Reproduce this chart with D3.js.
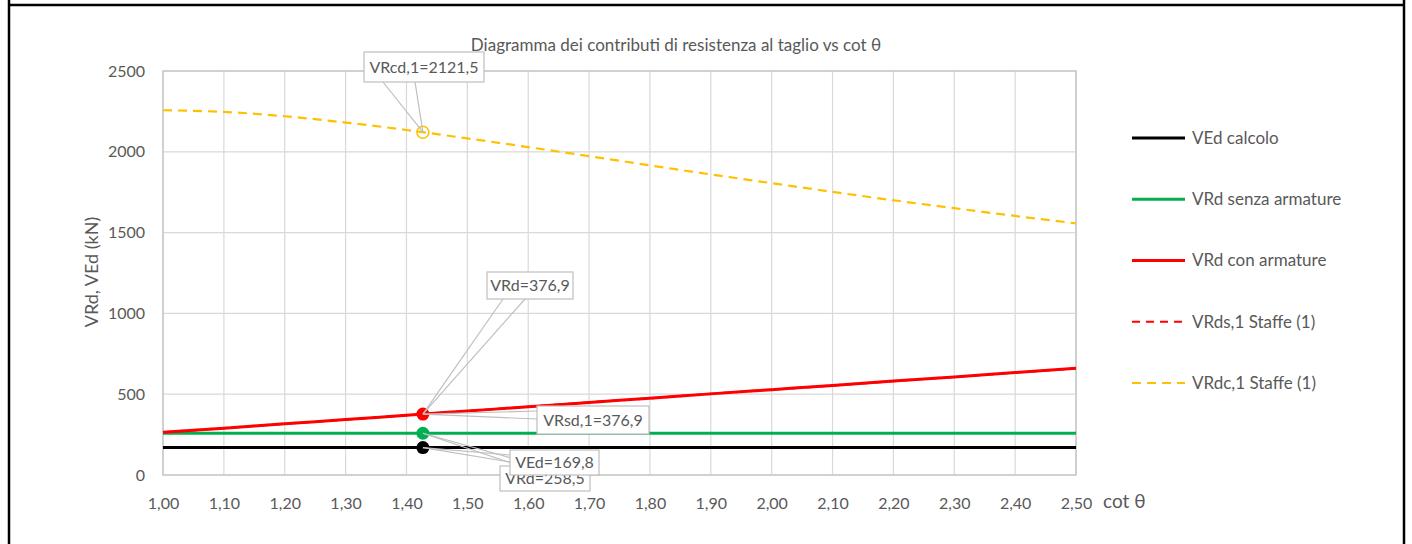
<!DOCTYPE html>
<html>
<head>
<meta charset="utf-8">
<script src="https://cdn.jsdelivr.net/npm/d3@7"></script>
<style>
  body { margin: 0; background: #fff; }
  svg { display: block; font-family: Lato, "Open Sans", sans-serif; }
</style>
</head>
<body>
<svg id="chart" width="1412" height="544"></svg>
<script>
// data
var cotTheta = [1.0, 1.1, 1.2, 1.3, 1.4, 1.5, 1.6, 1.7, 1.8, 1.9, 2.0, 2.1, 2.2, 2.3, 2.4, 2.5];
var vEd   = [169.8, 169.8, 169.8, 169.8, 169.8, 169.8, 169.8, 169.8, 169.8, 169.8, 169.8, 169.8, 169.8, 169.8, 169.8, 169.8];
var vRdNoArm = [258.5, 258.5, 258.5, 258.5, 258.5, 258.5, 258.5, 258.5, 258.5, 258.5, 258.5, 258.5, 258.5, 258.5, 258.5, 258.5];
var vRsd  = [264, 290, 317, 343, 370, 396, 422, 449, 475, 502, 528, 554, 581, 607, 634, 660];
var vRcd  = [2257, 2247, 2220, 2181, 2135, 2083, 2029, 1973, 1916, 1860, 1806, 1752, 1700, 1651, 1603, 1557];
var vRdArm = [264, 290, 317, 343, 370, 396, 422, 449, 475, 502, 528, 554, 581, 607, 634, 660];

var xTicks = [1.0, 1.1, 1.2, 1.3, 1.4, 1.5, 1.6, 1.7, 1.8, 1.9, 2.0, 2.1, 2.2, 2.3, 2.4, 2.5];
var yTicks = [0, 500, 1000, 1500, 2000, 2500];

// design point
var pointCot = 1.427;
var pointVals = { vEd: 169.8, vRdNoArm: 258.5, vRd: 376.9, vRsd: 376.9, vRcd: 2121.5 };

var svg = d3.select("#chart");
var x = d3.scaleLinear().domain([1, 2.5]).range([163, 1076]);
var y = d3.scaleLinear().domain([0, 2500]).range([475, 71]);
var textCol = "#595959";
var fmt = function(v) { return d3.format(".1f")(v).replace(".", ","); };

// outer frame
svg.append("line").attr("x1", 8).attr("x2", 1405).attr("y1", 5).attr("y2", 5).attr("stroke", "#000").attr("stroke-width", 2.5);
svg.append("line").attr("x1", 9).attr("x2", 9).attr("y1", 0).attr("y2", 544).attr("stroke", "#000").attr("stroke-width", 2.5);
svg.append("line").attr("x1", 1404).attr("x2", 1404).attr("y1", 0).attr("y2", 544).attr("stroke", "#000").attr("stroke-width", 2.5);

// gridlines
svg.append("g").selectAll("line").data(xTicks).enter().append("line")
  .attr("x1", function(d) { return x(d); }).attr("x2", function(d) { return x(d); })
  .attr("y1", y(2500)).attr("y2", y(0))
  .attr("stroke", "#d9d9d9").attr("stroke-width", 1.2);
svg.append("g").selectAll("line").data(yTicks).enter().append("line")
  .attr("x1", x(1)).attr("x2", x(2.5))
  .attr("y1", function(d) { return y(d); }).attr("y2", function(d) { return y(d); })
  .attr("stroke", "#d9d9d9").attr("stroke-width", 1.2);

// plot border
svg.append("rect").attr("x", x(1)).attr("y", y(2500)).attr("width", x(2.5) - x(1)).attr("height", y(0) - y(2500))
  .attr("fill", "none").attr("stroke", "#c8c8c8").attr("stroke-width", 1.5);

// axes (labels only)
var xAxis = svg.append("g").attr("transform", "translate(0," + y(0) + ")")
  .call(d3.axisBottom(x).tickValues(xTicks).tickSize(0).tickPadding(23).tickFormat(function(d) { return d3.format(".2f")(d).replace(".", ","); }));
var yAxis = svg.append("g").attr("transform", "translate(" + x(1) + ",0)")
  .call(d3.axisLeft(y).tickValues(yTicks).tickSize(0).tickPadding(18).tickFormat(d3.format("d")));
[xAxis, yAxis].forEach(function(a) {
  a.select(".domain").remove();
  a.selectAll("text").attr("fill", textCol).style("font-size", "16px").style("font-family", "Lato, sans-serif");
});

// titles
svg.append("text").attr("x", 676).attr("y", 51).attr("text-anchor", "middle")
  .attr("fill", textCol).style("font-size", "17px").text("Diagramma dei contributi di resistenza al taglio vs cot θ");
svg.append("text").attr("transform", "translate(98,272) rotate(-90)").attr("text-anchor", "middle")
  .attr("fill", textCol).style("font-size", "18px").text("VRd, VEd (kN)");
svg.append("text").attr("x", 1103).attr("y", 508)
  .attr("fill", textCol).style("font-size", "19px").text("cot θ");

// series
var series = [
  { name: "VEd calcolo", values: vEd, color: "#000000", dash: null, width: 3 },
  { name: "VRd senza armature", values: vRdNoArm, color: "#00b050", dash: null, width: 3 },
  { name: "VRds,1 Staffe (1)", values: vRsd, color: "#ff0000", dash: "8,6", width: 2.2 },
  { name: "VRd con armature", values: vRdArm, color: "#ff0000", dash: null, width: 3 },
  { name: "VRdc,1 Staffe (1)", values: vRcd, color: "#ffc000", dash: "9,6", width: 2.2 }
];
var line = d3.line()
  .x(function(d, i) { return x(cotTheta[i]); })
  .y(function(d) { return y(d); })
  .curve(d3.curveMonotoneX);
svg.append("g").selectAll("path").data(series).enter().append("path")
  .attr("d", function(s) { return line(s.values); })
  .attr("fill", "none")
  .attr("stroke", function(s) { return s.color; })
  .attr("stroke-width", function(s) { return s.width; })
  .attr("stroke-dasharray", function(s) { return s.dash; });

// markers at the design point
svg.append("circle").attr("cx", x(pointCot)).attr("cy", y(pointVals.vRcd)).attr("r", 6)
  .attr("fill", "none").attr("stroke", "#ffc000").attr("stroke-width", 1.5);
svg.append("circle").attr("cx", x(pointCot)).attr("cy", y(pointVals.vRd)).attr("r", 6.5).attr("fill", "#ff0000");
svg.append("circle").attr("cx", x(pointCot)).attr("cy", y(pointVals.vRdNoArm)).attr("r", 6.5).attr("fill", "#00b050");
svg.append("circle").attr("cx", x(pointCot)).attr("cy", y(pointVals.vEd)).attr("r", 6.5).attr("fill", "#000");

// callouts: box position and wedge base
var callouts = [
  { text: "VRcd,1=" + fmt(pointVals.vRcd), v: pointVals.vRcd, box: [364, 52, 120, 30], base: [[383, 82], [415, 82]] },
  { text: "VRd=" + fmt(pointVals.vRd), v: pointVals.vRd, box: [487, 272, 86, 27], base: [[503, 299], [525, 299]] },
  { text: "VRsd,1=" + fmt(pointVals.vRsd), v: pointVals.vRsd, box: [537, 406, 112, 28], base: [[537, 411], [537, 419]] },
  { text: "VRd=" + fmt(pointVals.vRdNoArm), v: pointVals.vRdNoArm, box: [500, 466, 90, 25], base: [[520, 466], [540, 466]] },
  { text: "VEd=" + fmt(pointVals.vEd), v: pointVals.vEd, box: [510, 450, 89, 25], base: [[510, 455], [510, 462]] }
];
var cg = svg.append("g").selectAll("g").data(callouts).enter().append("g");
cg.each(function(c) {
  var g = d3.select(this);
  var px = x(pointCot), py = y(c.v);
  c.base.forEach(function(b) {
    g.append("line").attr("x1", px).attr("y1", py).attr("x2", b[0]).attr("y2", b[1])
      .attr("stroke", "#bfbfbf").attr("stroke-width", 1.2);
  });
  g.append("rect").attr("x", c.box[0]).attr("y", c.box[1]).attr("width", c.box[2]).attr("height", c.box[3])
    .attr("fill", "#fff").attr("stroke", "#bfbfbf").attr("stroke-width", 1.2);
  g.append("text").attr("x", c.box[0] + c.box[2] / 2).attr("y", c.box[1] + c.box[3] / 2).attr("dy", "0.35em")
    .attr("text-anchor", "middle").attr("fill", textCol).style("font-size", "16px").text(c.text);
});

// legend
var legendOrder = ["VEd calcolo", "VRd senza armature", "VRd con armature", "VRds,1 Staffe (1)", "VRdc,1 Staffe (1)"];
var legendY = d3.scalePoint().domain(legendOrder).range([138, 383]);
var lg = svg.append("g").selectAll("g").data(legendOrder).enter().append("g")
  .attr("transform", function(d) { return "translate(1132," + legendY(d) + ")"; });
lg.append("line").attr("x1", 0).attr("x2", 53)
  .attr("stroke", function(d) { return series.find(function(s) { return s.name === d; }).color; })
  .attr("stroke-width", function(d) { return series.find(function(s) { return s.name === d; }).width; })
  .attr("stroke-dasharray", function(d) { return series.find(function(s) { return s.name === d; }).dash; });
lg.append("text").attr("x", 60).attr("dy", "0.35em").attr("fill", textCol).style("font-size", "17px").text(function(d) { return d; });
</script>
</body>
</html>
